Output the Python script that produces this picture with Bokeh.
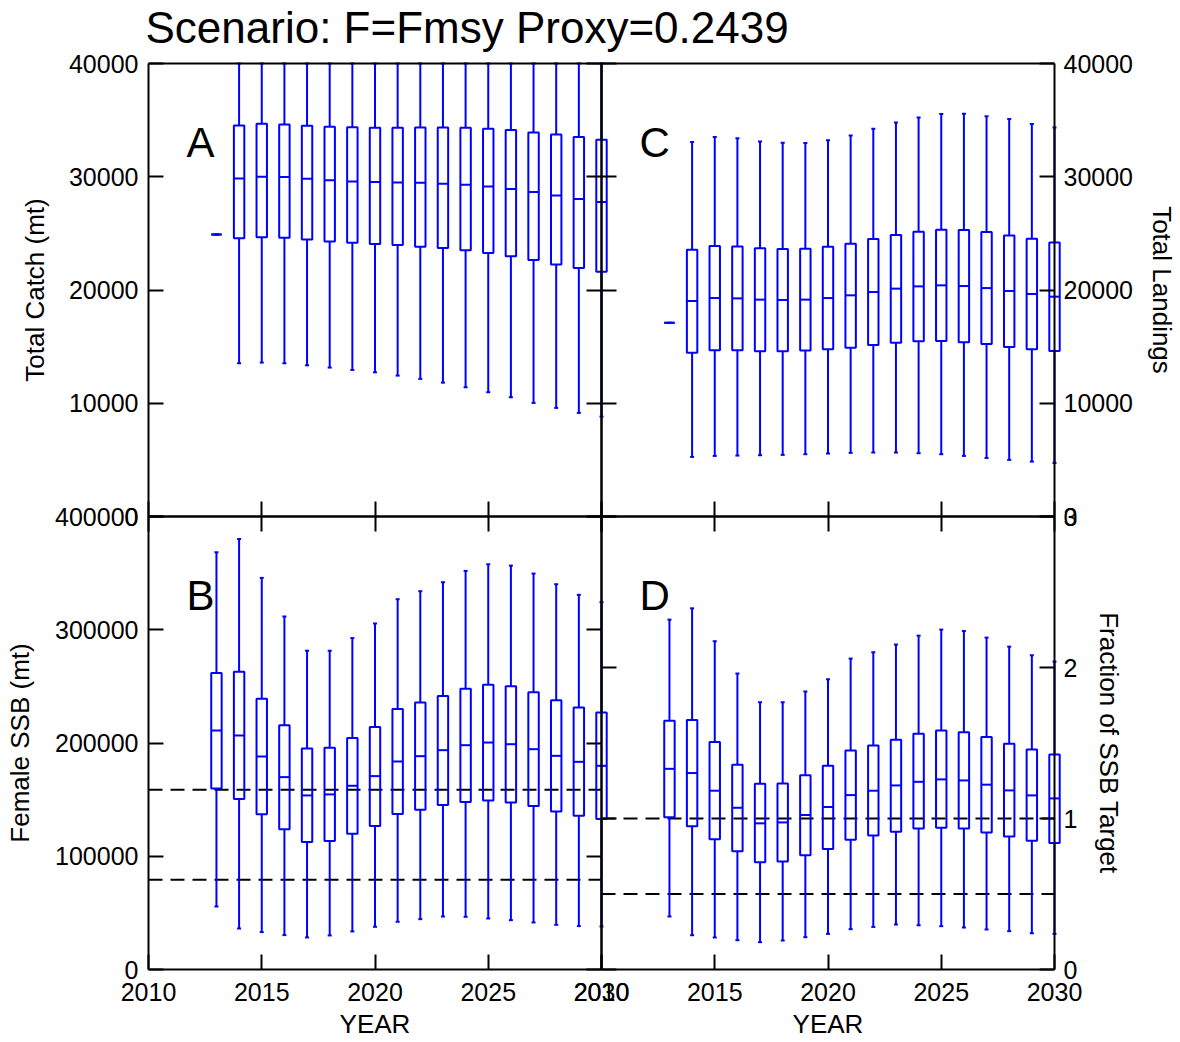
import numpy as np
from bokeh.plotting import figure
from bokeh.models import Range1d, LinearAxis, FixedTicker, Label
from bokeh.embed import file_html
from bokeh.resources import INLINE

# ---------------------------------------------------------------- data
years = list(range(2013, 2031))

# Panel A: total catch (mt) box statistics (upper whiskers run past the top of the axis)
catch_low = [24900, 13530, 13590, 13530, 13350, 13150, 12940, 12730, 12440, 12150, 11820, 11410, 10970, 10530, 10030, 9590, 9150, 8820]
catch_q1 = [24900, 24560, 24650, 24620, 24470, 24290, 24180, 24060, 23970, 23820, 23700, 23500, 23260, 22970, 22650, 22260, 21940, 21620]
catch_med = [24900, 29850, 30000, 29970, 29820, 29680, 29590, 29530, 29500, 29470, 29380, 29290, 29150, 28910, 28650, 28350, 28030, 27760]
catch_q3 = [24900, 34530, 34680, 34620, 34500, 34410, 34380, 34320, 34320, 34350, 34350, 34320, 34230, 34120, 33910, 33730, 33500, 33260]
catch_high = [24900, 40000, 40000, 40000, 40000, 40000, 40000, 40000, 40000, 40000, 40000, 40000, 40000, 40000, 40000, 40000, 40000, 40000]

# Panel C: total landings
land_low = [17100, 5260, 5350, 5380, 5410, 5440, 5500, 5560, 5620, 5650, 5650, 5590, 5500, 5350, 5170, 5000, 4850, 4730]
land_q1 = [17100, 14470, 14680, 14680, 14590, 14590, 14650, 14760, 14910, 15150, 15350, 15470, 15500, 15380, 15230, 14970, 14760, 14620]
land_med = [17100, 19030, 19290, 19260, 19150, 19120, 19150, 19290, 19530, 19820, 20120, 20320, 20410, 20350, 20170, 19910, 19650, 19410]
land_q3 = [17100, 23560, 23880, 23850, 23680, 23620, 23650, 23820, 24090, 24500, 24850, 25150, 25320, 25290, 25120, 24820, 24530, 24200]
land_high = [17100, 33060, 33500, 33410, 33120, 33000, 32970, 33230, 33650, 34230, 34790, 35230, 35530, 35560, 35350, 35090, 34650, 34350]

# Panel B: female spawning stock biomass (mt)
ssb_low = [55630, 36240, 33010, 30370, 28310, 30070, 33600, 37710, 42120, 44460, 46810, 46520, 45050, 43580, 41530, 39470, 38300, 38000]
ssb_q1 = [159880, 150480, 136980, 123760, 112600, 113480, 119940, 126700, 137270, 141090, 145200, 147840, 149310, 147550, 144320, 139620, 135800, 132860]
ssb_med = [210980, 206580, 188080, 169870, 153720, 154600, 162230, 170750, 183670, 188370, 193660, 198060, 200410, 198940, 194540, 188670, 183380, 179850]
ssb_q3 = [261790, 262970, 239180, 215680, 195130, 195720, 204520, 214220, 230080, 235660, 241530, 247990, 251520, 250050, 244760, 237710, 231250, 226850]
ssb_high = [368400, 380150, 345790, 311720, 281470, 281470, 292630, 305550, 326990, 334040, 341970, 351960, 357830, 356650, 349610, 340210, 330810, 324350]

# Panel D: SSB as a fraction of the SSB target
frac_low = [0.351, 0.227, 0.212, 0.194, 0.181, 0.192, 0.214, 0.236, 0.267, 0.282, 0.298, 0.293, 0.287, 0.278, 0.265, 0.254, 0.240, 0.236]
frac_q1 = [1.008, 0.948, 0.862, 0.783, 0.710, 0.716, 0.756, 0.798, 0.860, 0.888, 0.913, 0.933, 0.939, 0.933, 0.908, 0.880, 0.853, 0.838]
frac_med = [1.329, 1.301, 1.184, 1.071, 0.968, 0.974, 1.023, 1.076, 1.155, 1.184, 1.219, 1.243, 1.259, 1.252, 1.224, 1.186, 1.153, 1.133]
frac_q3 = [1.647, 1.653, 1.506, 1.356, 1.230, 1.232, 1.287, 1.349, 1.451, 1.484, 1.521, 1.561, 1.583, 1.572, 1.539, 1.495, 1.457, 1.424]
frac_high = [2.317, 2.392, 2.174, 1.960, 1.770, 1.770, 1.841, 1.922, 2.059, 2.101, 2.152, 2.211, 2.251, 2.242, 2.198, 2.138, 2.081, 2.039]

# reference levels
ssb_refs = [158700, 79350]      # SSB target and half the target
frac_refs = [1.0, 0.5]

# axis ticks
year_ticks = [2010, 2015, 2020, 2025, 2030]
catch_ticks = [0, 10000, 20000, 30000, 40000]
ssb_ticks = [0, 100000, 200000, 300000, 400000]
frac_ticks = [0, 1, 2, 3]

TITLE = "Scenario: F=Fmsy Proxy=0.2439"

# ---------------------------------------------------------------- layout
FONT = "Liberation Sans"
BLUE = "#0000ff"
BOX_W = 0.46
TICK_LEN = 15

W, H = 1180, 1042                 # canvas
PX_L, PX_M, PX_R = 148, 601, 1054  # panel column edges (px from left)
PY_T, PY_M, PY_B = 63, 516, 969    # panel row edges (px from top)


def fit_range(v0, px0, v1, px1, n, vertical=False):
    """Range over the whole canvas such that value v0 sits at pixel px0 and v1 at px1."""
    k = (v1 - v0) / (px1 - px0)
    at_0 = v0 - px0 * k
    at_n = v0 + (n - px0) * k
    return Range1d(at_n, at_0) if vertical else Range1d(at_0, at_n)


x0, x1 = year_ticks[0], year_ticks[-1]
x_left = fit_range(x0, PX_L, x1, PX_M, W)                                   # panels A, B
x_right = fit_range(x0, PX_M, x1, PX_R, W)                                  # panels C, D
y_top = fit_range(catch_ticks[0], PY_M, catch_ticks[-1], PY_T, H, True)     # panels A, C
y_ssb = fit_range(ssb_ticks[0], PY_B, ssb_ticks[-1], PY_M, H, True)         # panel B
y_frac = fit_range(frac_ticks[0], PY_B, frac_ticks[-1], PY_M, H, True)      # panel D

p = figure(width=W, height=H, x_range=x_left, y_range=y_ssb,
           x_axis_type=None, y_axis_type=None, output_backend="svg",
           toolbar_location=None, min_border=0,
           min_border_left=0, min_border_right=0, min_border_top=0, min_border_bottom=0)
p.extra_x_ranges = {"right": x_right}
p.extra_y_ranges = {"top": y_top, "frac": y_frac}
p.outline_line_color = None
p.background_fill_color = "white"
p.border_fill_color = "white"


def edge(side, xr, yr, loc, bounds, ticks, labeled=False, title=None, title_standoff=16):
    """One side of a panel: a line at a fixed data location with ticks pointing inward."""
    labels = [str(t) for t in ticks] if labeled else ["" for _ in ticks]
    ax = LinearAxis(x_range_name=xr, y_range_name=yr, fixed_location=loc, bounds=bounds,
                    ticker=FixedTicker(ticks=ticks),
                    major_label_overrides=dict(zip(ticks, labels)))
    ax.major_tick_in = TICK_LEN
    ax.major_tick_out = 0
    ax.minor_tick_in = 0
    ax.minor_tick_out = 0
    ax.axis_line_width = 2
    ax.axis_line_color = "black"
    ax.major_tick_line_width = 2
    ax.major_tick_line_color = "black"
    ax.major_label_text_font = FONT
    ax.major_label_text_font_size = "25px"
    ax.major_label_text_color = "black"
    ax.major_label_standoff = {"right": 9, "below": 13}.get(side, 10)
    if title is not None:
        ax.axis_label = title
        ax.axis_label_text_font = FONT
        ax.axis_label_text_font_size = "26px"
        ax.axis_label_text_font_style = "normal"
        ax.axis_label_text_color = "black"
        ax.axis_label_standoff = title_standoff
    p.add_layout(ax, side)


yr_span = (x0, x1)
catch_span = (catch_ticks[0], catch_ticks[-1])
ssb_span = (ssb_ticks[0], ssb_ticks[-1])
frac_span = (frac_ticks[0], frac_ticks[-1])

# panel A: total catch
edge("left", "default", "top", x0, catch_span, catch_ticks, labeled=True,
     title="Total Catch (mt)", title_standoff=16)
edge("right", "default", "top", x1, catch_span, catch_ticks)
edge("below", "default", "top", catch_ticks[0], yr_span, year_ticks)
edge("above", "default", "top", catch_ticks[-1], yr_span, [])

# panel B: female SSB
edge("left", "default", "default", x0, ssb_span, ssb_ticks, labeled=True,
     title="Female SSB (mt)", title_standoff=17)
edge("below", "default", "default", ssb_ticks[0], yr_span, year_ticks, labeled=True,
     title="YEAR", title_standoff=5)
edge("above", "default", "default", ssb_ticks[-1], yr_span, year_ticks)
edge("right", "default", "default", x1, ssb_span, ssb_ticks)

# panel C: total landings
edge("right", "right", "top", x1, catch_span, catch_ticks, labeled=True,
     title="Total Landings", title_standoff=11)
edge("left", "right", "top", x0, catch_span, catch_ticks)
edge("below", "right", "top", catch_ticks[0], yr_span, year_ticks)
edge("above", "right", "top", catch_ticks[-1], yr_span, [])

# panel D: fraction of SSB target
edge("right", "right", "frac", x1, frac_span, frac_ticks, labeled=True,
     title="Fraction of SSB Target", title_standoff=14)
edge("below", "right", "frac", frac_ticks[0], yr_span, year_ticks, labeled=True,
     title="YEAR", title_standoff=5)
edge("above", "right", "frac", frac_ticks[-1], yr_span, year_ticks)
edge("left", "right", "frac", x0, frac_span, frac_ticks)

# dashed reference lines
p.segment(x0=[x0] * 2, x1=[x1] * 2, y0=ssb_refs, y1=ssb_refs,
          line_color="black", line_width=2, line_dash="14 8")
p.segment(x0=[x0] * 2, x1=[x1] * 2, y0=frac_refs, y1=frac_refs,
          line_color="black", line_width=2, line_dash="14 8",
          x_range_name="right", y_range_name="frac")


def boxes(low, q1, med, q3, high, xr="default", yr="default"):
    x = np.array(years, dtype=float)
    kw = dict(line_color=BLUE, line_width=2, x_range_name=xr, y_range_name=yr)
    p.segment(x0=x, y0=q3, x1=x, y1=high, **kw)
    p.segment(x0=x, y0=q1, x1=x, y1=low, **kw)
    p.vbar(x=x, top=q3, bottom=q1, width=BOX_W, fill_color=None, **kw)
    p.segment(x0=x - BOX_W / 2, y0=med, x1=x + BOX_W / 2, y1=med, **kw)
    p.scatter(x=np.r_[x, x], y=np.r_[low, high], marker="dash", size=4, **kw)


boxes(catch_low, catch_q1, catch_med, catch_q3, catch_high, yr="top")
boxes(ssb_low, ssb_q1, ssb_med, ssb_q3, ssb_high)
boxes(land_low, land_q1, land_med, land_q3, land_high, xr="right", yr="top")
boxes(frac_low, frac_q1, frac_med, frac_q3, frac_high, xr="right", yr="frac")

# chart title above panel A
p.add_layout(Label(x=x0, y=catch_ticks[-1], y_range_name="top", x_offset=-3, y_offset=36,
                   text=TITLE, text_font=FONT, text_font_size="44px", text_color="black",
                   text_align="left", text_baseline="alphabetic"))

# panel letters, anchored at each panel's top-left corner
letters = [("A", "default", "top", catch_ticks[-1]),
           ("B", "default", "default", ssb_ticks[-1]),
           ("C", "right", "top", catch_ticks[-1]),
           ("D", "right", "frac", frac_ticks[-1])]
for txt, xr, yr, ytop in letters:
    p.add_layout(Label(x=x0, y=ytop, x_range_name=xr, y_range_name=yr,
                       x_offset=38, y_offset=-79, text=txt, text_font=FONT,
                       text_color="black", text_font_size="42px",
                       text_align="left", text_baseline="alphabetic"))

open("out.html", "w").write(file_html(p, INLINE))
